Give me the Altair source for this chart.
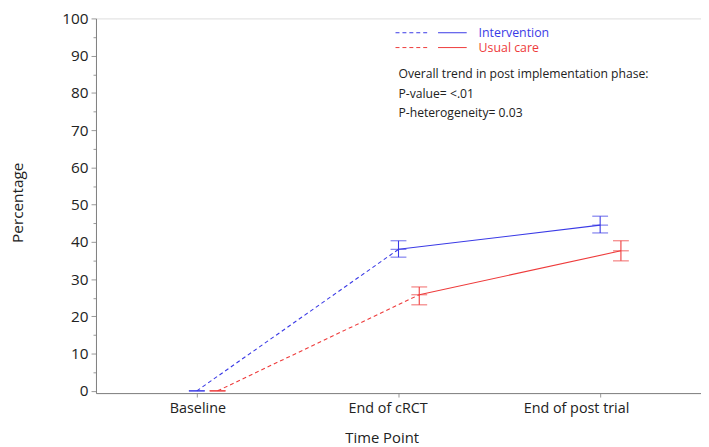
import altair as alt
import pandas as pd

# ---- data ----
time_points = ["Baseline", "End of cRCT", "End of post trial"]
series_names = ["Intervention", "Usual care"]
intervention_mean = [0.0, 38.0, 44.5]
intervention_lo = [0.0, 35.9, 42.4]
intervention_hi = [0.0, 40.3, 46.9]
usual_mean = [0.0, 25.8, 37.6]
usual_lo = [0.0, 23.1, 34.9]
usual_hi = [0.0, 27.9, 40.3]
y_ticks = list(range(0, 101, 5))
note_lines = [
    "Overall trend in post implementation phase:",
    "P-value= <.01",
    "P-heterogeneity= 0.03",
]

BLUE = "#3a3ae6"
RED = "#ee3b3b"
FONT = "Open Sans"

rows = []
for name, m, lo, hi in [
    (series_names[0], intervention_mean, intervention_lo, intervention_hi),
    (series_names[1], usual_mean, usual_lo, usual_hi),
]:
    for t, a, b, c in zip(time_points, m, lo, hi):
        rows.append({"series": name, "time": t, "mean": a, "lo": b, "hi": c})
df = pd.DataFrame(rows)

W, H = 612, 379
x_enc = alt.X(
    "time:N",
    sort=time_points,
    scale=alt.Scale(type="point", padding=0.5),
    axis=alt.Axis(
        title="Time Point",
        labelAngle=0,
        labelAlign="right",
        labelOffset=29,
        labelBaseline="top",
        labelPadding=5,
        labelFontSize=14.5,
        labelFont=FONT,
        labelColor="#222222",
        tickSize=4,
        tickColor="#999999",
        domainColor="#808080",
        titleFont=FONT,
        titleFontSize=15,
        titleFontWeight="normal",
        titleColor="#222222",
        titleX=289,
        titleY=45,
        titleAlign="center",
        titleBaseline="middle",
    ),
)
y_scale = alt.Scale(domain=[-0.6, 100], nice=False, zero=False)
y_axis = alt.Axis(
    title="Percentage",
    values=y_ticks,
    labelExpr="datum.value % 10 === 0 ? datum.label : ''",
    labelOverlap=False,
    labelFont=FONT,
    labelFontSize=15.5,
    labelColor="#222222",
    labelPadding=3,
    tickSize={"condition": {"test": "datum.value % 10 === 0", "value": 5}, "value": 3},
    tickColor="#999999",
    domainColor="#808080",
    grid=False,
    titleFont=FONT,
    titleFontSize=15.5,
    titleFontWeight="normal",
    titleColor="#222222",
    titleAngle=270,
    titleX=-71,
    titleY=186,
    titleAlign="center",
    titleBaseline="bottom",
)


def Y(field):
    return alt.Y(f"{field}:Q", scale=y_scale, axis=y_axis)


def series_layers(name, color, offset):
    base = alt.Chart(df).transform_filter(alt.datum.series == name)
    dashed = base.transform_filter(
        alt.FieldOneOfPredicate(field="time", oneOf=time_points[:2])
    ).mark_line(color=color, strokeWidth=1.1, strokeDash=[4, 3], xOffset=offset).encode(x=x_enc, y=Y("mean"))
    solid = base.transform_filter(
        alt.FieldOneOfPredicate(field="time", oneOf=time_points[1:])
    ).mark_line(color=color, strokeWidth=1.1, xOffset=offset).encode(x=x_enc, y=Y("mean"))
    rule = base.mark_rule(color=color, strokeWidth=1.1, xOffset=offset).encode(
        x=x_enc, y=Y("lo"), y2="hi:Q"
    )
    ticks = [
        base.mark_tick(color=color, orient="horizontal", size=16, thickness=1.1, xOffset=offset).encode(
            x=x_enc, y=Y(f)
        )
        for f in ["lo", "mean", "hi"]
    ]
    return [dashed, solid, rule] + ticks


one = alt.Data(values=[{}])
legend_layers = []
for i, (name, color) in enumerate(zip(series_names, [BLUE, RED])):
    ly = 14.5 + i * 15
    legend_layers.append(
        alt.Chart(one).mark_rule(color=color, strokeWidth=1, strokeDash=[4, 3]).encode(
            x=alt.value(303), x2=alt.value(336), y=alt.value(ly)
        )
    )
    legend_layers.append(
        alt.Chart(one).mark_rule(color=color, strokeWidth=1).encode(
            x=alt.value(346), x2=alt.value(375), y=alt.value(ly)
        )
    )
    legend_layers.append(
        alt.Chart(one).mark_text(
            align="left", baseline="middle", font=FONT, fontSize=12.5, color=color
        ).encode(x=alt.value(387), y=alt.value(ly), text=alt.value(name))
    )
for i, line in enumerate(note_lines):
    legend_layers.append(
        alt.Chart(one).mark_text(
            align="left", baseline="middle", font=FONT, fontSize=12.3, color="#222222"
        ).encode(x=alt.value(306), y=alt.value(56 + i * 20), text=alt.value(line))
    )

layers = series_layers(series_names[0], BLUE, 0) + series_layers(series_names[1], RED, 21) + legend_layers

chart = alt.layer(*layers).properties(
    width=W,
    height=H,
    autosize=alt.AutoSizeParams(type="none"),
    padding={"left": 89, "top": 8, "right": 0, "bottom": 52},
).configure_view(stroke=None).configure(background="white")

chart.save("out.html", embed_options={"renderer": "svg", "actions": False})
